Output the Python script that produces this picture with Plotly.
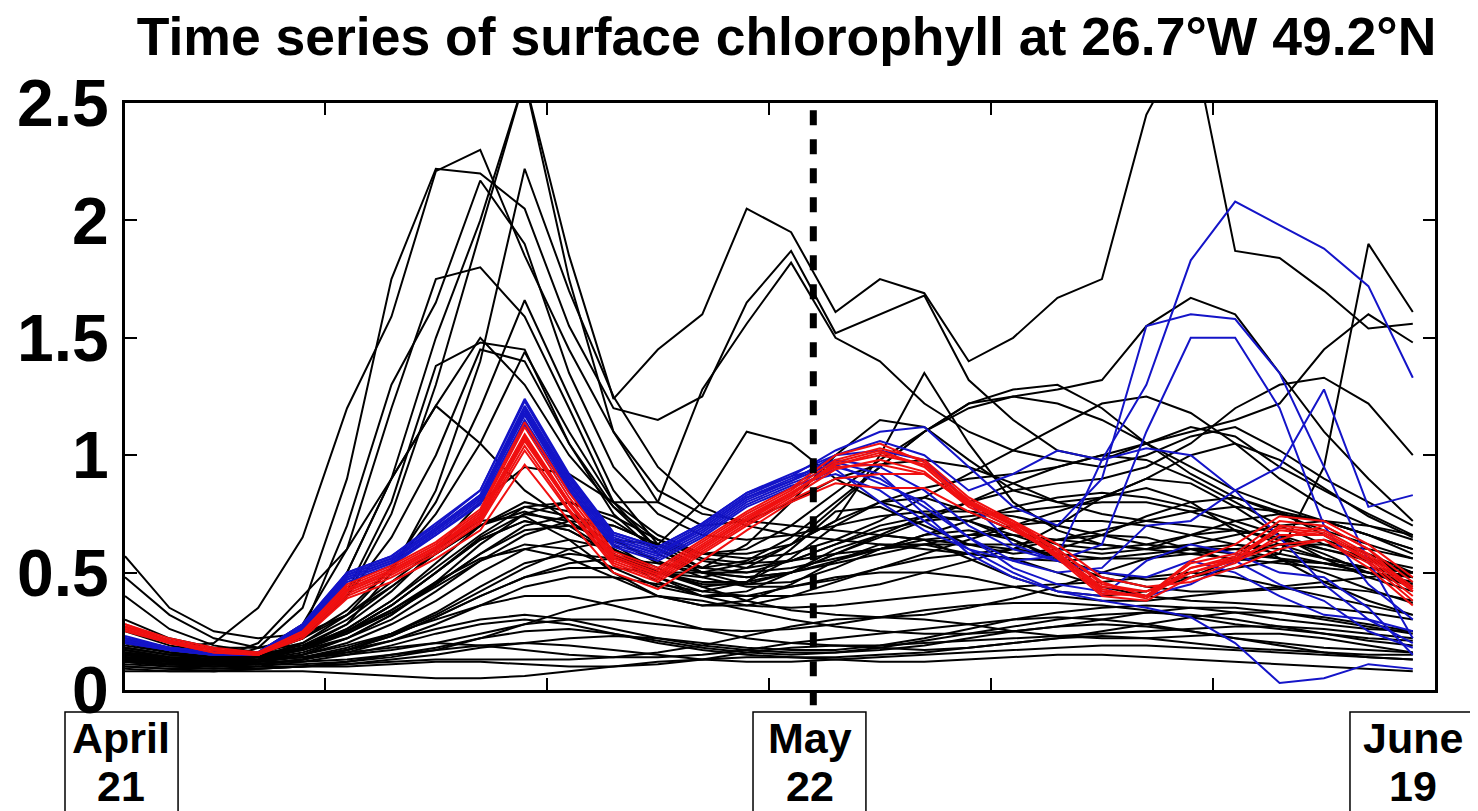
import plotly.graph_objects as go

# ---------------- data (day of year, chlorophyll mg m-3) ----------------
days = [111, 113, 115, 117, 119, 121, 123, 125, 127, 129,
        131, 133, 135, 137, 139, 141, 143, 145, 147, 149,
        151, 153, 155, 157, 159, 161, 163, 165, 167, 169]

# black: free ensemble members
black_L1 = [0.10,0.09,0.08,0.08,0.08,0.07,0.06,0.05,0.05,0.06,0.08,0.10,0.12,0.13,0.14,0.14,0.13,0.12,0.12,0.13,0.14,0.15,0.15,0.14,0.13,0.12,0.11,0.10,0.09,0.08]
black_L2 = [0.12,0.11,0.10,0.10,0.10,0.10,0.11,0.12,0.12,0.11,0.10,0.10,0.11,0.13,0.16,0.18,0.19,0.18,0.17,0.18,0.20,0.22,0.23,0.22,0.20,0.18,0.17,0.16,0.15,0.15]
black_L3 = [0.14,0.12,0.11,0.12,0.14,0.16,0.18,0.20,0.19,0.17,0.15,0.14,0.14,0.15,0.17,0.20,0.22,0.24,0.26,0.28,0.30,0.31,0.30,0.28,0.25,0.22,0.20,0.18,0.17,0.16]
black_L4 = [0.09,0.08,0.08,0.09,0.10,0.12,0.15,0.18,0.22,0.25,0.26,0.24,0.21,0.18,0.16,0.15,0.16,0.18,0.21,0.24,0.27,0.30,0.32,0.33,0.32,0.30,0.27,0.24,0.21,0.19]
black_L5 = [0.16,0.14,0.13,0.13,0.14,0.17,0.21,0.26,0.30,0.32,0.30,0.26,0.22,0.19,0.17,0.16,0.16,0.17,0.19,0.22,0.25,0.27,0.28,0.27,0.25,0.22,0.19,0.16,0.14,0.13]
black_L6 = [0.11,0.10,0.09,0.09,0.10,0.11,0.13,0.15,0.18,0.20,0.22,0.23,0.22,0.20,0.18,0.17,0.17,0.19,0.22,0.26,0.30,0.33,0.35,0.36,0.35,0.33,0.30,0.28,0.26,0.25]
black_L7 = [0.18,0.15,0.13,0.12,0.12,0.13,0.15,0.17,0.19,0.20,0.19,0.17,0.15,0.13,0.12,0.12,0.13,0.14,0.15,0.16,0.17,0.18,0.19,0.19,0.18,0.17,0.16,0.15,0.14,0.13]
black_L8 = [0.13,0.12,0.12,0.13,0.15,0.19,0.24,0.30,0.36,0.40,0.40,0.36,0.31,0.26,0.22,0.20,0.19,0.19,0.20,0.21,0.22,0.23,0.24,0.25,0.26,0.27,0.27,0.26,0.24,0.22]
black_L9 = [0.08,0.08,0.08,0.09,0.10,0.11,0.12,0.13,0.13,0.13,0.13,0.14,0.16,0.19,0.23,0.27,0.30,0.31,0.30,0.28,0.25,0.23,0.22,0.22,0.23,0.24,0.24,0.22,0.19,0.16]
black_L10 = [0.15,0.13,0.12,0.11,0.11,0.12,0.14,0.17,0.22,0.28,0.34,0.38,0.40,0.38,0.34,0.30,0.27,0.25,0.24,0.24,0.25,0.27,0.30,0.33,0.35,0.35,0.33,0.30,0.27,0.24]
black_L11 = [0.20,0.17,0.15,0.14,0.14,0.15,0.17,0.20,0.24,0.28,0.30,0.30,0.28,0.26,0.25,0.26,0.28,0.31,0.34,0.36,0.37,0.37,0.36,0.34,0.31,0.28,0.26,0.24,0.22,0.21]
black_L12 = [0.10,0.09,0.09,0.10,0.12,0.15,0.19,0.24,0.28,0.30,0.28,0.24,0.20,0.17,0.15,0.14,0.14,0.15,0.16,0.18,0.20,0.22,0.25,0.28,0.31,0.33,0.33,0.31,0.28,0.25]
black_M1 = [0.20,0.16,0.14,0.14,0.17,0.25,0.36,0.50,0.65,0.75,0.72,0.60,0.48,0.40,0.36,0.35,0.36,0.38,0.40,0.42,0.44,0.45,0.46,0.48,0.50,0.48,0.44,0.40,0.36,0.32]
black_M2 = [0.17,0.14,0.12,0.12,0.15,0.22,0.32,0.45,0.58,0.68,0.70,0.64,0.55,0.48,0.44,0.44,0.47,0.52,0.56,0.58,0.56,0.50,0.44,0.40,0.38,0.37,0.36,0.35,0.33,0.30]
black_M3 = [0.22,0.17,0.15,0.15,0.18,0.26,0.38,0.52,0.66,0.78,0.80,0.72,0.60,0.50,0.45,0.46,0.52,0.60,0.66,0.68,0.64,0.56,0.50,0.47,0.48,0.52,0.55,0.54,0.50,0.45]
black_M4 = [0.14,0.12,0.11,0.12,0.15,0.20,0.28,0.38,0.50,0.60,0.64,0.60,0.52,0.44,0.38,0.34,0.32,0.31,0.32,0.35,0.39,0.44,0.50,0.56,0.60,0.60,0.56,0.50,0.43,0.37]
black_M5 = [0.19,0.16,0.14,0.15,0.18,0.24,0.33,0.44,0.55,0.62,0.60,0.52,0.44,0.40,0.42,0.50,0.60,0.66,0.64,0.56,0.48,0.42,0.40,0.42,0.48,0.56,0.62,0.64,0.58,0.50]
black_M6 = [0.25,0.19,0.16,0.16,0.20,0.30,0.44,0.58,0.70,0.76,0.70,0.58,0.46,0.40,0.40,0.44,0.48,0.50,0.50,0.48,0.44,0.40,0.38,0.38,0.40,0.42,0.44,0.46,0.48,0.50]
black_M7 = [0.13,0.11,0.10,0.11,0.13,0.17,0.23,0.31,0.40,0.48,0.54,0.56,0.54,0.50,0.50,0.55,0.62,0.70,0.74,0.72,0.64,0.55,0.48,0.44,0.42,0.42,0.43,0.44,0.42,0.38]
black_M8 = [0.30,0.22,0.18,0.18,0.22,0.32,0.46,0.60,0.72,0.74,0.64,0.50,0.40,0.36,0.38,0.45,0.55,0.62,0.62,0.58,0.60,0.70,0.82,0.90,0.88,0.78,0.66,0.56,0.48,0.42]
black_M9 = [0.16,0.13,0.12,0.13,0.17,0.24,0.34,0.46,0.56,0.60,0.56,0.48,0.40,0.36,0.36,0.40,0.46,0.52,0.58,0.64,0.70,0.76,0.82,0.86,0.80,0.68,0.56,0.46,0.38,0.32]
black_M10 = [0.57,0.35,0.25,0.22,0.24,0.32,0.44,0.58,0.70,0.78,0.74,0.62,0.50,0.44,0.46,0.56,0.70,0.80,0.82,0.76,0.68,0.62,0.60,0.62,0.66,0.68,0.65,0.58,0.50,0.44]
black_M11 = [0.48,0.32,0.22,0.18,0.19,0.25,0.36,0.50,0.64,0.72,0.68,0.58,0.48,0.42,0.46,0.60,0.76,0.78,0.70,0.62,0.58,0.60,0.66,0.74,0.80,0.82,0.76,0.66,0.56,0.48]
black_M12 = [0.40,0.26,0.19,0.16,0.17,0.22,0.30,0.42,0.55,0.66,0.72,0.70,0.62,0.55,0.52,0.55,0.62,0.68,0.72,0.74,0.76,0.78,0.80,0.80,0.76,0.70,0.62,0.56,0.52,0.50]
black_U1 = [0.18,0.15,0.14,0.16,0.25,0.50,0.90,1.21,1.05,0.85,0.72,0.60,0.50,0.45,0.45,0.50,0.58,0.65,0.72,0.80,0.88,0.95,1.00,0.98,0.90,0.80,0.70,0.62,0.56,0.50]
black_U2 = [0.15,0.13,0.13,0.16,0.24,0.40,0.65,1.00,1.45,1.40,1.05,0.78,0.60,0.52,0.55,0.65,0.80,0.95,1.10,1.22,1.25,1.22,1.15,1.05,0.95,0.85,0.78,0.72,0.66,0.60]
black_U3 = [0.20,0.16,0.14,0.15,0.19,0.28,0.42,0.60,0.80,0.95,0.92,0.80,0.66,0.58,0.58,0.62,0.72,1.00,1.35,1.05,0.80,0.68,0.62,0.60,0.62,0.66,0.70,0.72,0.70,0.66]
black_U4 = [0.14,0.12,0.12,0.14,0.18,0.25,0.34,0.45,0.58,0.70,0.74,0.70,0.62,0.80,1.10,1.05,0.90,0.80,0.75,0.72,0.66,0.60,0.58,0.60,0.66,0.72,0.75,0.72,0.66,0.58]
black_U5 = [0.12,0.11,0.11,0.12,0.14,0.18,0.24,0.32,0.42,0.52,0.60,0.64,0.62,0.58,0.56,0.58,0.64,0.72,0.82,0.92,1.02,1.12,1.22,1.25,1.18,1.05,0.90,0.78,0.70,0.64]
black_U6 = [0.21,0.17,0.15,0.15,0.18,0.25,0.36,0.50,0.64,0.72,0.68,0.58,0.50,0.48,0.52,0.62,0.78,0.95,1.10,1.22,1.28,1.30,1.20,1.05,0.92,0.82,0.75,0.68,0.62,0.56]
black_U7 = [0.16,0.13,0.12,0.13,0.16,0.22,0.32,0.46,0.62,0.75,0.80,0.74,0.64,0.58,0.60,0.70,0.84,0.98,1.10,1.20,1.25,1.28,1.32,1.55,1.67,1.60,1.35,1.10,0.90,0.72]
black_U8 = [0.13,0.11,0.10,0.11,0.13,0.17,0.23,0.31,0.40,0.48,0.52,0.52,0.50,0.50,0.54,0.62,0.72,0.80,0.86,0.90,0.92,0.95,1.00,1.05,1.10,1.15,1.22,1.45,1.60,1.48]
black_U9 = [0.12,0.10,0.10,0.11,0.13,0.16,0.21,0.28,0.36,0.44,0.48,0.48,0.45,0.42,0.40,0.40,0.42,0.45,0.50,0.55,0.60,0.64,0.66,0.65,0.60,0.55,0.58,0.95,1.90,1.61]
black_U10 = [0.15,0.12,0.11,0.11,0.13,0.17,0.24,0.33,0.44,0.54,0.58,0.56,0.50,0.46,0.46,0.50,0.58,0.66,0.74,0.80,0.85,0.88,0.90,0.95,1.05,1.20,1.30,1.33,1.22,1.00]
black_U11 = [0.17,0.14,0.13,0.14,0.18,0.26,0.38,0.54,0.70,0.80,0.76,0.64,0.54,0.52,0.62,0.80,1.00,1.15,1.12,0.98,0.85,0.80,0.82,0.90,1.00,1.05,0.98,0.86,0.74,0.65]
black_HA = [0.15,0.12,0.13,0.20,0.40,0.60,0.90,1.50,2.00,2.60,1.85,1.24,1.45,1.60,2.05,1.95,1.61,1.75,1.69,1.40,1.50,1.67,1.75,2.45,2.80,1.87,1.84,1.70,1.54,1.56]
black_HB = [0.13,0.11,0.12,0.18,0.35,0.90,1.75,2.22,2.20,2.05,1.55,1.20,1.15,1.25,1.65,1.87,1.52,1.60,1.68,1.32,1.15,1.02,0.98,1.05,1.12,1.08,0.95,0.85,0.75,0.66]
black_HC = [0.14,0.12,0.12,0.16,0.28,0.60,1.20,1.75,1.80,1.59,1.20,0.80,0.80,1.28,1.56,1.82,1.50,1.40,1.22,1.10,1.02,0.98,0.95,1.00,1.08,1.12,1.02,0.90,0.80,0.70]
black_HD = [0.20,0.18,0.20,0.35,0.65,1.20,1.59,2.21,2.30,1.85,1.45,1.10,0.85,0.75,0.72,0.70,0.68,0.66,0.64,0.62,0.62,0.64,0.68,0.72,0.76,0.78,0.76,0.72,0.66,0.60]
black_HE = [0.14,0.12,0.12,0.15,0.25,0.70,1.30,1.65,2.17,1.90,1.35,0.95,0.75,0.66,0.64,0.66,0.70,0.74,0.76,0.76,0.74,0.70,0.66,0.62,0.60,0.58,0.56,0.54,0.52,0.50]
black_HF = [0.17,0.14,0.13,0.15,0.22,0.50,0.90,1.21,1.50,1.30,1.00,0.78,0.64,0.56,0.54,0.55,0.58,0.60,0.62,0.62,0.60,0.58,0.56,0.56,0.58,0.60,0.62,0.62,0.60,0.56]
black_HG = [0.13,0.11,0.11,0.13,0.18,0.28,0.50,0.85,1.40,2.22,1.70,1.25,0.95,0.78,0.70,0.66,0.64,0.62,0.60,0.58,0.56,0.55,0.56,0.58,0.60,0.62,0.60,0.56,0.52,0.48]
black_HT = [0.12,0.11,0.12,0.15,0.22,0.40,0.75,1.30,1.95,2.60,1.75,1.10,0.80,0.70,0.72,0.80,0.90,0.96,0.98,0.95,0.88,0.80,0.75,0.72,0.70,0.68,0.64,0.60,0.56,0.52]
black_HV = [0.16,0.13,0.12,0.14,0.20,0.32,0.52,0.80,1.20,1.66,1.25,0.85,0.62,0.52,0.50,0.52,0.56,0.60,0.64,0.66,0.66,0.64,0.62,0.60,0.58,0.56,0.54,0.52,0.50,0.48]
black_HW = [0.18,0.15,0.14,0.16,0.22,0.34,0.52,0.75,1.05,1.44,1.10,0.80,0.60,0.50,0.48,0.50,0.55,0.60,0.66,0.72,0.78,0.82,0.84,0.82,0.78,0.72,0.66,0.60,0.55,0.50]
black_HU = [0.15,0.13,0.13,0.16,0.24,0.42,0.80,1.38,1.48,1.45,1.05,0.75,0.58,0.50,0.48,0.50,0.54,0.58,0.62,0.66,0.70,0.72,0.72,0.70,0.66,0.62,0.58,0.54,0.50,0.46]

# blue: members assimilated until May 22, then free
blue_1 = [0.23,0.18,0.16,0.16,0.28,0.50,0.57,0.70,0.85,1.24,0.92,0.67,0.61,0.71,0.84,0.92,1.00,1.06,1.00,0.85,0.92,1.02,0.98,1.30,1.83,2.08,1.98,1.88,1.72,1.33]
blue_2 = [0.22,0.18,0.16,0.16,0.27,0.49,0.56,0.69,0.83,1.21,0.90,0.66,0.60,0.70,0.83,0.91,1.02,1.10,1.12,0.95,0.78,0.70,0.90,1.55,1.60,1.58,1.35,0.95,0.55,0.22]
blue_3 = [0.21,0.17,0.15,0.16,0.27,0.48,0.55,0.68,0.82,1.19,0.88,0.64,0.58,0.69,0.82,0.90,0.98,0.95,0.85,0.70,0.60,0.55,0.62,1.10,1.50,1.50,1.20,0.70,0.45,0.30]
blue_4 = [0.21,0.17,0.15,0.15,0.26,0.47,0.54,0.67,0.81,1.17,0.86,0.63,0.57,0.67,0.80,0.88,0.95,0.90,0.78,0.65,0.55,0.50,0.52,0.70,0.72,0.85,0.95,1.28,0.78,0.83]
blue_5 = [0.20,0.17,0.15,0.15,0.26,0.47,0.54,0.66,0.80,1.15,0.85,0.62,0.56,0.66,0.79,0.87,0.92,0.85,0.72,0.60,0.50,0.42,0.38,0.35,0.31,0.20,0.03,0.05,0.11,0.09]
blue_6 = [0.22,0.18,0.16,0.16,0.28,0.50,0.57,0.71,0.85,1.23,0.91,0.67,0.61,0.71,0.84,0.91,0.96,0.88,0.80,0.65,0.52,0.45,0.42,0.40,0.45,0.55,0.45,0.38,0.25,0.18]
blue_7 = [0.21,0.18,0.16,0.16,0.27,0.49,0.56,0.69,0.83,1.20,0.89,0.65,0.59,0.69,0.82,0.89,1.00,1.02,0.98,0.80,0.62,0.55,0.50,0.48,0.55,0.50,0.40,0.32,0.30,0.20]
blue_8 = [0.20,0.17,0.15,0.15,0.25,0.46,0.53,0.66,0.79,1.13,0.84,0.61,0.55,0.65,0.78,0.86,0.94,0.80,0.68,0.60,0.55,0.57,0.98,1.03,1.00,0.85,0.65,0.45,0.30,0.25]
blue_9 = [0.22,0.18,0.16,0.16,0.27,0.48,0.55,0.68,0.82,1.18,0.87,0.64,0.58,0.68,0.81,0.89,0.97,0.92,0.75,0.58,0.48,0.42,0.40,0.55,0.62,0.58,0.50,0.48,0.35,0.15]

# red: members assimilated throughout
red_1 = [0.28,0.21,0.17,0.16,0.25,0.44,0.52,0.62,0.76,1.12,0.82,0.58,0.51,0.63,0.75,0.85,0.98,1.03,0.98,0.82,0.72,0.60,0.46,0.40,0.50,0.55,0.70,0.68,0.58,0.44]
red_2 = [0.27,0.21,0.17,0.15,0.24,0.43,0.51,0.61,0.74,1.08,0.80,0.56,0.49,0.61,0.73,0.84,0.96,1.00,0.96,0.80,0.70,0.58,0.43,0.39,0.52,0.56,0.68,0.66,0.56,0.42]
red_3 = [0.26,0.20,0.17,0.15,0.23,0.41,0.49,0.59,0.72,1.04,0.77,0.54,0.47,0.59,0.71,0.82,0.94,0.98,0.93,0.78,0.69,0.57,0.41,0.40,0.54,0.58,0.72,0.70,0.60,0.46]
red_4 = [0.27,0.21,0.17,0.15,0.24,0.42,0.50,0.60,0.73,1.06,0.79,0.55,0.48,0.60,0.72,0.83,0.97,1.02,0.95,0.79,0.70,0.56,0.40,0.38,0.48,0.54,0.66,0.66,0.55,0.40]
red_5 = [0.25,0.20,0.16,0.15,0.22,0.39,0.46,0.56,0.68,0.96,0.72,0.50,0.43,0.55,0.68,0.80,0.88,0.86,0.86,0.76,0.68,0.58,0.44,0.42,0.50,0.55,0.62,0.64,0.54,0.38]
red_6 = [0.28,0.22,0.18,0.16,0.25,0.45,0.53,0.63,0.77,1.14,0.84,0.59,0.52,0.64,0.76,0.86,1.00,1.05,0.97,0.80,0.70,0.57,0.42,0.40,0.55,0.62,0.74,0.72,0.62,0.48]
red_7 = [0.27,0.21,0.17,0.15,0.24,0.43,0.51,0.61,0.75,1.09,0.80,0.57,0.50,0.62,0.74,0.84,0.95,0.96,0.92,0.79,0.71,0.60,0.45,0.42,0.50,0.56,0.64,0.70,0.60,0.42]
red_8 = [0.26,0.20,0.16,0.15,0.23,0.40,0.48,0.58,0.71,1.02,0.76,0.53,0.46,0.58,0.70,0.81,0.90,0.92,0.92,0.80,0.72,0.62,0.48,0.44,0.46,0.52,0.60,0.64,0.52,0.36]
red_9 = [0.27,0.21,0.17,0.15,0.24,0.42,0.50,0.60,0.74,1.07,0.79,0.56,0.49,0.61,0.73,0.83,0.96,1.01,0.96,0.81,0.71,0.59,0.42,0.40,0.52,0.57,0.69,0.67,0.57,0.43]

y_ticks = [0, 0.5, 1, 1.5, 2, 2.5]
y_tick_text = ["0", "0.5", "1", "1.5", "2", "2.5"]
x_ticks = [120, 130, 140, 150, 160]
split_day = 142
date_labels = [(111, "April", "21"), (142, "May", "22"), (169, "June", "19")]
title_text = "Time series of surface chlorophyll at 26.7°W 49.2°N"

black_series = [black_L1, black_L2, black_L3, black_L4, black_L5, black_L6, black_L7,
                black_L8, black_L9, black_L10, black_L11, black_L12,
                black_M1, black_M2, black_M3, black_M4, black_M5, black_M6, black_M7,
                black_M8, black_M9, black_M10, black_M11, black_M12,
                black_U1, black_U2, black_U3, black_U4, black_U5, black_U6, black_U7,
                black_U8, black_U9, black_U10, black_U11,
                black_HA, black_HB, black_HC, black_HD, black_HE, black_HF, black_HG,
                black_HT, black_HV, black_HW, black_HU]
blue_series = [blue_1, blue_2, blue_3, blue_4, blue_5, blue_6, blue_7, blue_8, blue_9]
red_series = [red_1, red_2, red_3, red_4, red_5, red_6, red_7, red_8, red_9]

# ---------------- figure ----------------
# the page body adds an 8px offset, so the figure is 8px smaller than the window
FONT = "Liberation Sans, Arial, Helvetica, sans-serif"
fig = go.Figure()

for s in black_series:
    fig.add_trace(go.Scatter(x=days, y=s, mode="lines",
                             line=dict(color="black", width=2),
                             showlegend=False, hoverinfo="skip"))
for s in blue_series:
    fig.add_trace(go.Scatter(x=days, y=s, mode="lines",
                             line=dict(color="#1414c8", width=2),
                             showlegend=False, hoverinfo="skip"))
for s in red_series:
    fig.add_trace(go.Scatter(x=days, y=s, mode="lines",
                             line=dict(color="#f01010", width=2),
                             showlegend=False, hoverinfo="skip"))

fig.update_layout(
    width=1470, height=803,
    margin=dict(l=117, r=43, t=95, b=121),
    paper_bgcolor="white", plot_bgcolor="white",
    showlegend=False,
    title=dict(text=title_text,
               font=dict(family=FONT, size=53.5, color="black", weight="bold"),
               x=0.505, xref="paper", xanchor="center",
               y=0.965, yref="container", yanchor="middle"),
)

fig.update_xaxes(range=[111, 170], tickvals=x_ticks, ticks="inside", ticklen=12,
                 tickwidth=1.5, tickcolor="black", showticklabels=False,
                 showline=True, linewidth=3, linecolor="black", mirror="ticks",
                 showgrid=False, zeroline=False, automargin=False)
fig.update_yaxes(range=[0, 2.5], tickvals=y_ticks, ticktext=y_tick_text,
                 ticks="inside", ticklen=12, tickwidth=1.5, tickcolor="black",
                 tickfont=dict(family=FONT, size=66, color="black", weight="bold"),
                 ticklabelstandoff=0,
                 showline=True, linewidth=3, linecolor="black", mirror="ticks",
                 showgrid=False, zeroline=False, automargin=False)

# dashed line marking May 22
fig.add_shape(type="line", xref="x", yref="paper", x0=split_day, x1=split_day,
              y0=-0.026, y1=1.0, line=dict(color="black", width=7, dash="15px,14px"),
              layer="above")

# date boxes and labels
box_edges = [(-0.0458, 0.0405), (0.4794, 0.5656), (0.9351, 1.0344)]
label_shift = [-4, -3, 0]
for (d, m, n), (bx0, bx1), sh in zip(date_labels, box_edges, label_shift):
    fig.add_shape(type="rect", xref="paper", yref="paper", x0=bx0, x1=bx1,
                  y0=-0.26, y1=-0.0375, line=dict(color="black", width=1.5),
                  fillcolor="rgba(0,0,0,0)", layer="above")
    fig.add_annotation(x=d, xref="x", y=-0.0818, yref="paper", text=m, xshift=sh,
                       showarrow=False, xanchor="center", yanchor="middle",
                       font=dict(family=FONT, size=43, color="black", weight="bold"))
    fig.add_annotation(x=d, xref="x", y=-0.1635, yref="paper", text=n, xshift=sh,
                       showarrow=False, xanchor="center", yanchor="middle",
                       font=dict(family=FONT, size=43, color="black", weight="bold"))

fig.write_html("out.html")
